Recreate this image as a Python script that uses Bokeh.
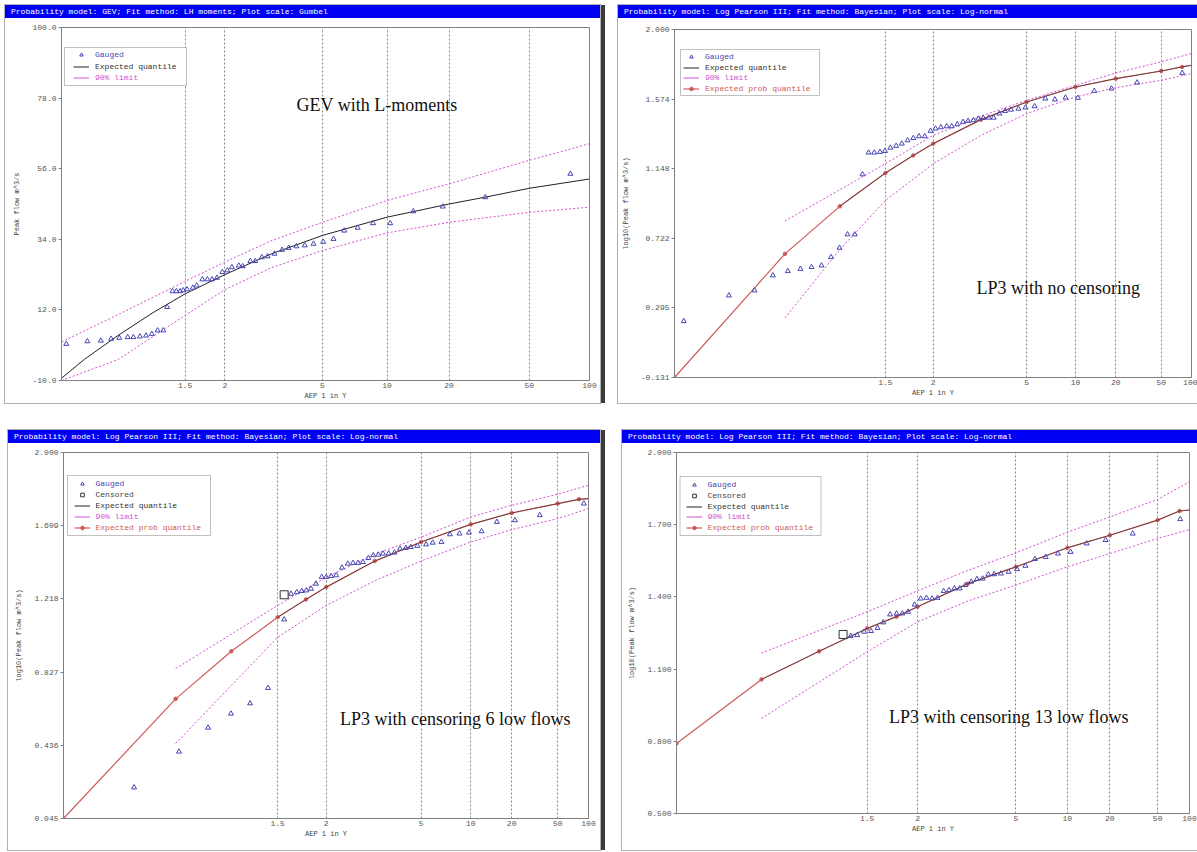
import math
from bokeh.plotting import figure
from bokeh.models import (Range1d, FixedTicker, PrintfTickFormatter, Label, Legend,
                          LegendItem, BoxAnnotation, Div, Spacer)
from bokeh.layouts import column, row
from bokeh.embed import file_html
from bokeh.resources import INLINE

# ---------------- axis ticks / labels ----------------
AEP_TICKS = [1.5, 2, 5, 10, 20, 50, 100]
AEP_TICK_LABELS = ["1.5", "2", "5", "10", "20", "50", "100"]
GEV_Y_TICKS = [-10.0, 12.0, 34.0, 56.0, 78.0, 100.0]
LP3A_Y_TICKS = [-0.131, 0.295, 0.722, 1.148, 1.574, 2.000]
LP3B_Y_TICKS = [0.045, 0.436, 0.827, 1.218, 1.609, 2.000]
LP3C_Y_TICKS = [0.500, 0.800, 1.100, 1.400, 1.700, 2.000]

# ---------------- panel 1: GEV with L-moments (Gumbel scale) ----------------
# gauged points: x = Gumbel reduced variate, y = peak flow m^3/s
gev_pts_z = [-1.474, -1.229, -1.073, -0.953, -0.859, -0.762, -0.695, -0.619, -0.548, -0.481,
             -0.414, -0.348, -0.303, -0.241, -0.196, -0.152, -0.116, -0.072, -0.005, 0.040,
             0.106, 0.164, 0.218, 0.275, 0.338, 0.396, 0.449, 0.529, 0.574, 0.663,
             0.720, 0.796, 0.863, 0.943, 1.032, 1.108, 1.197, 1.294, 1.397, 1.508,
             1.628, 1.753, 1.909, 2.087, 2.287, 2.554, 2.896, 3.390, 4.378]
gev_pts_q = [1.4, 2.2, 2.4, 3.0, 3.3, 3.5, 3.5, 3.7, 4.0, 4.5,
             5.6, 5.6, 12.9, 17.8, 17.8, 17.8, 18.1, 18.4, 18.9, 19.6,
             21.5, 21.5, 21.5, 22.0, 23.8, 24.3, 25.3, 25.8, 25.6, 27.2,
             27.2, 28.4, 28.7, 29.5, 30.7, 31.3, 31.8, 32.1, 32.6, 33.2,
             34.1, 36.7, 37.6, 39.0, 39.0, 42.7, 44.2, 47.1, 54.4]
gev_exp_aep = [1.01, 1.03, 1.1, 1.25, 1.5, 2, 3, 5, 10, 20, 30, 50, 100]
gev_exp_q = [-9.3, -3.4, 4.0, 11.0, 17.0, 23.0, 29.4, 35.2, 40.9, 45.0, 47.1, 49.9, 52.8]
gev_up_aep = [1.01, 1.1, 1.5, 2, 3, 5, 10, 20, 50, 100]
gev_up_q = [2.0, 10.5, 20.9, 26.9, 33.5, 39.3, 46.1, 51.3, 58.6, 63.8]
gev_lo_aep = [1.01, 1.1, 1.5, 2, 3, 5, 10, 20, 50, 100]
gev_lo_q = [-10.0, -3.5, 10.3, 18.3, 25.1, 30.5, 36.0, 39.3, 42.4, 44.0]

# ---------------- panel 2: LP3, no censoring (log-normal scale) ----------------
# gauged points: x = standard normal variate, y = log10 peak flow
lp3a_pts_z = [-2.247, -1.840, -1.609, -1.444, -1.309, -1.196, -1.096, -1.006, -0.920, -0.844,
              -0.772, -0.706, -0.637, -0.582, -0.531, -0.479, -0.434, -0.386, -0.334, -0.283,
              -0.231, -0.179, -0.128, -0.076, -0.024, 0.021, 0.069, 0.121, 0.166, 0.217,
              0.269, 0.314, 0.362, 0.407, 0.451, 0.500, 0.544, 0.596, 0.648, 0.700,
              0.768, 0.831, 0.913, 1.010, 1.096, 1.192, 1.303, 1.451, 1.606, 1.837, 2.243]
lp3a_pts_q = [0.214, 0.371, 0.402, 0.494, 0.520, 0.534, 0.545, 0.555, 0.606, 0.663,
              0.745, 0.745, 1.113, 1.246, 1.246, 1.250, 1.256, 1.276, 1.287, 1.301,
              1.321, 1.335, 1.346, 1.346, 1.379, 1.393, 1.401, 1.407, 1.407, 1.419,
              1.434, 1.440, 1.444, 1.454, 1.458, 1.460, 1.460, 1.485, 1.501, 1.509,
              1.515, 1.522, 1.530, 1.577, 1.571, 1.583, 1.581, 1.624, 1.638, 1.675, 1.734]
lp3a_epq_aep = [1.01, 1.1, 1.25, 1.5, 1.75, 2, 3, 5, 10, 20, 50, 80, 100]
lp3a_epq_q = [-0.131, 0.626, 0.917, 1.121, 1.229, 1.301, 1.448, 1.556, 1.648, 1.699, 1.746, 1.771, 1.781]
lp3a_eq_aep = [1.25, 1.5, 1.75, 2, 3, 5, 10, 20, 50, 80, 100]
lp3a_eq_q = [0.917, 1.121, 1.229, 1.301, 1.448, 1.556, 1.648, 1.699, 1.746, 1.771, 1.781]
lp3a_up_aep = [1.1, 1.5, 2, 3, 5, 10, 20, 50, 100]
lp3a_up_q = [0.827, 1.178, 1.352, 1.470, 1.566, 1.658, 1.734, 1.802, 1.853]
lp3a_lo_aep = [1.1, 1.25, 1.5, 2, 3, 5, 10, 20, 50, 100]
lp3a_lo_q = [0.234, 0.652, 0.953, 1.178, 1.352, 1.485, 1.587, 1.644, 1.689, 1.730]

# ---------------- panel 3: LP3, 6 low flows censored ----------------
lp3b_pts_z = [-1.704, -1.306, -1.048, -0.845, -0.675, -0.516, -0.373,
              -0.312, -0.261, -0.217, -0.176, -0.135, -0.091, -0.040, 0.000, 0.044, 0.089,
              0.140, 0.191, 0.238, 0.282, 0.326, 0.374, 0.418, 0.462, 0.503, 0.554,
              0.605, 0.655, 0.706, 0.750, 0.808, 0.886, 0.944, 1.022, 1.097, 1.182,
              1.266, 1.378, 1.514, 1.674, 1.894, 2.285]
lp3b_pts_q = [0.211, 0.402, 0.530, 0.605, 0.660, 0.742, 1.108,
              1.245, 1.254, 1.260, 1.263, 1.272, 1.299, 1.335, 1.335, 1.340, 1.344,
              1.385, 1.406, 1.410, 1.410, 1.415, 1.436, 1.451, 1.454, 1.460, 1.460,
              1.465, 1.486, 1.490, 1.495, 1.501, 1.509, 1.518, 1.522, 1.563, 1.567,
              1.572, 1.579, 1.629, 1.638, 1.665, 1.727]
lp3b_cens_z = [-0.373]
lp3b_cens_q = [1.240]
lp3b_epq_aep = [1.01, 1.1, 1.25, 1.5, 1.75, 2, 3, 5, 10, 20, 50, 80, 100]
lp3b_epq_q = [0.045, 0.684, 0.938, 1.120, 1.215, 1.281, 1.420, 1.522, 1.616, 1.677, 1.727, 1.750, 1.754]
lp3b_eq_aep = [1.5, 1.75, 2, 3, 5, 10, 20, 50, 80, 100]
lp3b_eq_q = [1.120, 1.215, 1.281, 1.420, 1.522, 1.616, 1.677, 1.727, 1.750, 1.754]
lp3b_up_aep = [1.1, 1.5, 2, 3, 5, 10, 20, 50, 100]
lp3b_up_q = [0.846, 1.183, 1.334, 1.456, 1.548, 1.655, 1.718, 1.777, 1.825]
lp3b_lo_aep = [1.1, 1.5, 2, 3, 5, 10, 20, 50, 100]
lp3b_lo_q = [0.446, 1.013, 1.183, 1.315, 1.420, 1.522, 1.588, 1.647, 1.700]

# ---------------- panel 4: LP3, 13 low flows censored ----------------
lp3c_pts_z = [-0.571, -0.516, -0.457, -0.398, -0.342, -0.293, -0.235, -0.179, -0.130, -0.081,
              -0.025, 0.027, 0.076, 0.125, 0.171, 0.223, 0.269, 0.315, 0.361, 0.410,
              0.459, 0.508, 0.557, 0.606, 0.655, 0.713, 0.779, 0.851, 0.923, 1.004,
              1.096, 1.201, 1.309, 1.446, 1.609, 1.841, 2.247]
lp3c_pts_q = [1.238, 1.241, 1.255, 1.258, 1.271, 1.294, 1.327, 1.331, 1.331, 1.338,
              1.368, 1.393, 1.396, 1.393, 1.396, 1.424, 1.428, 1.435, 1.435, 1.449,
              1.463, 1.474, 1.476, 1.493, 1.494, 1.497, 1.504, 1.515, 1.529, 1.557,
              1.566, 1.580, 1.587, 1.622, 1.636, 1.663, 1.723]
lp3c_cens_z = [-0.637]
lp3c_cens_q = [1.244]
lp3c_epq_aep = [1.02, 1.1, 1.25, 1.5, 1.75, 2, 3, 5, 10, 20, 50, 80, 100]
lp3c_epq_q = [0.791, 1.057, 1.174, 1.269, 1.318, 1.359, 1.455, 1.525, 1.604, 1.656, 1.719, 1.757, 1.761]
lp3c_eq_aep = [1.1, 1.25, 1.5, 1.75, 2, 3, 5, 10, 20, 50, 80, 100]
lp3c_eq_q = [1.057, 1.174, 1.269, 1.318, 1.359, 1.455, 1.525, 1.604, 1.656, 1.719, 1.757, 1.761]
lp3c_up_aep = [1.1, 1.5, 2, 3, 5, 10, 20, 50, 100]
lp3c_up_q = [1.167, 1.338, 1.425, 1.510, 1.583, 1.669, 1.732, 1.805, 1.878]
lp3c_lo_aep = [1.1, 1.5, 2, 3, 5, 10, 20, 50, 100]
lp3c_lo_q = [0.895, 1.172, 1.296, 1.383, 1.449, 1.525, 1.580, 1.643, 1.680]

# ---------------- probability-scale transforms ----------------
def gumbel_variate(aep_y):
    return -math.log(-math.log(1.0 - 1.0 / aep_y))


def normal_variate(aep_y):
    p = 1.0 - 1.0 / aep_y
    lo, hi = -8.0, 8.0
    for _ in range(100):
        mid = 0.5 * (lo + hi)
        if 0.5 * (1.0 + math.erf(mid / math.sqrt(2.0))) < p:
            lo = mid
        else:
            hi = mid
    return 0.5 * (lo + hi)


# ---------------- styles ----------------
MONO = "Liberation Mono"
SERIF = "Liberation Serif"
BLUE = "#4646b4"
MAG = "#d250d2"
RED = "#d05a5a"
BLACK = "#222222"
GRID = "#8a8a8a"
AXIS = "#808080"
TICKTXT = "#555555"
HEADER_BG = "#0000f4"
OFF = [-50.0, -49.0]   # legend-only swatch renderers sit outside the fixed x range


def make_fig(width, height, borders, tf, x_lo_aep, y_lo, y_hi, y_ticks, y_fmt, y_label):
    l, r, t, b = borders
    p = figure(width=width, height=height, output_backend="svg", toolbar_location=None,
               x_range=Range1d(tf(x_lo_aep), tf(100)), y_range=Range1d(y_lo, y_hi),
               min_border_left=l, min_border_right=r, min_border_top=t, min_border_bottom=b,
               background_fill_color="white", border_fill_color="white", margin=0)
    xt = [tf(a) for a in AEP_TICKS]
    p.xaxis.ticker = FixedTicker(ticks=xt)
    p.xaxis.major_label_overrides = {v: s for v, s in zip(xt, AEP_TICK_LABELS)}
    p.yaxis.ticker = FixedTicker(ticks=y_ticks)
    p.yaxis.formatter = PrintfTickFormatter(format=y_fmt)
    p.xgrid.ticker = FixedTicker(ticks=xt[:-1])
    p.xgrid.grid_line_color = GRID
    p.xgrid.grid_line_dash = "2 2"
    p.xgrid.grid_line_width = 1
    p.ygrid.visible = False
    for ax in (p.xaxis[0], p.yaxis[0]):
        ax.axis_line_color = AXIS
        ax.major_label_text_font = MONO
        ax.major_label_text_font_size = "8px"
        ax.major_label_text_color = TICKTXT
        ax.axis_label_text_font = MONO
        ax.axis_label_text_font_size = "7px"
        ax.axis_label_text_font_style = "normal"
        ax.axis_label_text_color = "#444444"
        ax.minor_tick_line_color = None
    p.xaxis.major_tick_line_color = None
    p.xaxis.major_tick_out = 0
    p.xaxis.major_tick_in = 0
    p.xaxis.major_label_standoff = 2
    p.xaxis.axis_label = "AEP 1 in Y"
    p.xaxis.axis_label_standoff = 1
    p.yaxis.major_tick_line_color = AXIS
    p.yaxis.major_tick_out = 3
    p.yaxis.major_tick_in = 0
    p.yaxis.major_label_standoff = 2
    p.yaxis.axis_label = y_label
    p.yaxis.axis_label_standoff = 8
    p.outline_line_color = AXIS
    return p


def add_legend(p, frame_h, box, text_x, entries):
    l, t, r, b = box
    p.add_layout(BoxAnnotation(left=l, right=r, top=frame_h - t, bottom=frame_h - b,
                               left_units="screen", right_units="screen",
                               top_units="screen", bottom_units="screen",
                               fill_color="white", fill_alpha=1.0,
                               line_color="#303030", line_width=1))
    for label, rends, color, cy in entries:
        leg = Legend(items=[LegendItem(label=label, renderers=rends)],
                     location=(text_x - 22, frame_h - cy - 5),
                     padding=0, margin=0, spacing=0,
                     glyph_width=16, glyph_height=9, label_height=8, label_standoff=6,
                     label_text_font=MONO, label_text_font_size="8px",
                     label_text_color=color, border_line_alpha=0,
                     background_fill_alpha=0)
        p.add_layout(leg)


def header(text, width):
    return Div(text=text, width=width, height=13, margin=0,
               styles={"background-color": HEADER_BG, "color": "#ffffff",
                       "font-family": "'Liberation Mono', monospace", "font-size": "8px",
                       "line-height": "13px", "padding-left": "6px", "white-space": "nowrap",
                       "overflow": "hidden", "box-sizing": "border-box"})


def divider(height):
    return Div(text="", width=4, height=height, margin=0,
               styles={"background-color": "#3c3c3c"})


def note(p, x, y, text):
    p.add_layout(Label(x=x, y=y, text=text, text_font=SERIF, text_font_size="18px",
                       text_align="center", text_baseline="middle", text_color="#111111"))


def lp3_series(p, tf, up_aep, up_q, lo_aep, lo_q, eq_aep, eq_q, epq_aep, epq_q,
               pts_z, pts_q, cens_z=None, cens_q=None):
    p.line([tf(a) for a in up_aep], up_q, line_color=MAG, line_dash="2 2", line_width=1)
    p.line([tf(a) for a in lo_aep], lo_q, line_color=MAG, line_dash="2 2", line_width=1)
    r_red = p.line([tf(a) for a in epq_aep], epq_q, line_color=RED, line_width=1.2)
    r_redm = p.scatter([tf(a) for a in epq_aep[:-1]], epq_q[:-1], marker="circle", size=3.5,
                       fill_color=RED, line_color=RED)
    p.line([tf(a) for a in eq_aep], eq_q, line_color=BLACK, line_width=1, line_alpha=0.55)
    r_pts = p.scatter(pts_z, pts_q, marker="triangle", size=5, line_color=BLUE,
                      fill_color=None, line_width=1)
    r_cens = None
    if cens_z is not None:
        r_cens = p.scatter(cens_z, cens_q, marker="square", size=8, line_color="#333333",
                           fill_color=None, line_width=1)
    r_mag = p.line(OFF, [0.0, 0.0], line_color=MAG, line_width=1)
    r_blk_leg = p.line(OFF, [0.0, 0.0], line_color=BLACK, line_width=1)
    return r_pts, r_cens, r_blk_leg, r_mag, [r_red, r_redm]


HDR_GEV = "Probability model: GEV; Fit method: LH moments; Plot scale: Gumbel"
HDR_LP3 = "Probability model: Log Pearson III; Fit method: Bayesian; Plot scale: Log-normal"

# ---------------- panel 1 ----------------
p1 = make_fig(595, 385, (56, 11, 9, 23), gumbel_variate, 1.01, -10.0, 100.0,
              GEV_Y_TICKS, "%.1f", "Peak flow m^3/s")
p1.line([gumbel_variate(a) for a in gev_up_aep], gev_up_q, line_color=MAG, line_dash="2 2")
p1.line([gumbel_variate(a) for a in gev_lo_aep], gev_lo_q, line_color=MAG, line_dash="2 2")
r1_blk = p1.line([gumbel_variate(a) for a in gev_exp_aep], gev_exp_q, line_color=BLACK, line_width=1)
r1_pts = p1.scatter(gev_pts_z, gev_pts_q, marker="triangle", size=5, line_color=BLUE,
                    fill_color=None, line_width=1)
r1_mag = p1.line(OFF, [0.0, 0.0], line_color=MAG, line_width=1)
note(p1, 2.134, 75.7, "GEV with L-moments")
add_legend(p1, 353, (3, 20, 125, 58), 34,
           [("Gauged", [r1_pts], BLUE, 27), ("Expected quantile", [r1_blk], "#333333", 39),
            ("90% limit", [r1_mag], MAG, 50)])

# ---------------- panel 2 ----------------
p2 = make_fig(579, 385, (55, 6, 11, 26), normal_variate, 1.01, -0.131, 2.0,
              LP3A_Y_TICKS, "%.3f", "log10(Peak flow m^3/s)")
a_pts, _, a_blk, a_mag, a_red = lp3_series(p2, normal_variate, lp3a_up_aep, lp3a_up_q,
                                           lp3a_lo_aep, lp3a_lo_q, lp3a_eq_aep, lp3a_eq_q,
                                           lp3a_epq_aep, lp3a_epq_q, lp3a_pts_z, lp3a_pts_q)
note(p2, 1.127, 0.414, "LP3 with no censoring")
add_legend(p2, 348, (6, 20, 145, 66), 31,
           [("Gauged", [a_pts], BLUE, 27), ("Expected quantile", [a_blk], "#333333", 37.5),
            ("90% limit", [a_mag], MAG, 48), ("Expected prob quantile", a_red, RED, 59)])

# ---------------- panel 3 ----------------
p3 = make_fig(592, 407, (55, 12, 9, 32), normal_variate, 1.01, 0.045, 2.0,
              LP3B_Y_TICKS, "%.3f", "log10(Peak flow m^3/s)")
b_pts, b_cens, b_blk, b_mag, b_red = lp3_series(p3, normal_variate, lp3b_up_aep, lp3b_up_q,
                                                lp3b_lo_aep, lp3b_lo_q, lp3b_eq_aep, lp3b_eq_q,
                                                lp3b_epq_aep, lp3b_epq_q, lp3b_pts_z, lp3b_pts_q,
                                                lp3b_cens_z, lp3b_cens_q)
note(p3, 1.144, 0.578, "LP3 with censoring 6 low flows")
add_legend(p3, 366, (4, 23, 147, 83), 32.5,
           [("Gauged", [b_pts], BLUE, 30.5), ("Censored", [b_cens], "#444444", 41.5),
            ("Expected quantile", [b_blk], "#333333", 52.5), ("90% limit", [b_mag], MAG, 63.5),
            ("Expected prob quantile", b_red, RED, 74.5)])

# ---------------- panel 4 ----------------
p4 = make_fig(575, 407, (54, 8, 9, 37), normal_variate, 1.02, 0.5, 2.0,
              LP3C_Y_TICKS, "%.3f", "log10(Peak flow m^3/s)")
c_pts, c_cens, c_blk, c_mag, c_red = lp3_series(p4, normal_variate, lp3c_up_aep, lp3c_up_q,
                                                lp3c_lo_aep, lp3c_lo_q, lp3c_eq_aep, lp3c_eq_q,
                                                lp3c_epq_aep, lp3c_epq_q, lp3c_pts_z, lp3c_pts_q,
                                                lp3c_cens_z, lp3c_cens_q)
note(p4, 0.781, 0.900, "LP3 with censoring 13 low flows")
add_legend(p4, 361, (3.5, 24, 144.5, 83), 31.5,
           [("Gauged", [c_pts], BLUE, 31.5), ("Censored", [c_cens], "#444444", 42.5),
            ("Expected quantile", [c_blk], "#333333", 53.5), ("90% limit", [c_mag], MAG, 64),
            ("Expected prob quantile", c_red, RED, 74.5)])

PANEL_STYLE = {"outline": "1px solid #b0b0b0"}
col1 = column(header(HDR_GEV, 595), p1, styles=PANEL_STYLE, spacing=0, margin=0)
col2 = column(header(HDR_LP3, 579), p2, styles=PANEL_STYLE, spacing=0, margin=0)
col3 = column(header(HDR_LP3, 592), p3, styles=PANEL_STYLE, spacing=0, margin=0)
col4 = column(header(HDR_LP3, 575), p4, styles=PANEL_STYLE, spacing=0, margin=0)

top_row = row(col1, Spacer(width=1, height=10, margin=0), divider(398),
              Spacer(width=13, height=10, margin=0), col2, spacing=0, margin=0)
bottom_row = row(Spacer(width=3, height=10, margin=0), col3,
                 Spacer(width=1, height=10, margin=0), divider(420),
                 Spacer(width=17, height=10, margin=0), col4, spacing=0, margin=0)
layout = column(top_row, Spacer(width=10, height=27, margin=0), bottom_row,
                spacing=0, margin=(5, 0, 0, 5))

open("out.html", "w").write(file_html(layout, INLINE))
